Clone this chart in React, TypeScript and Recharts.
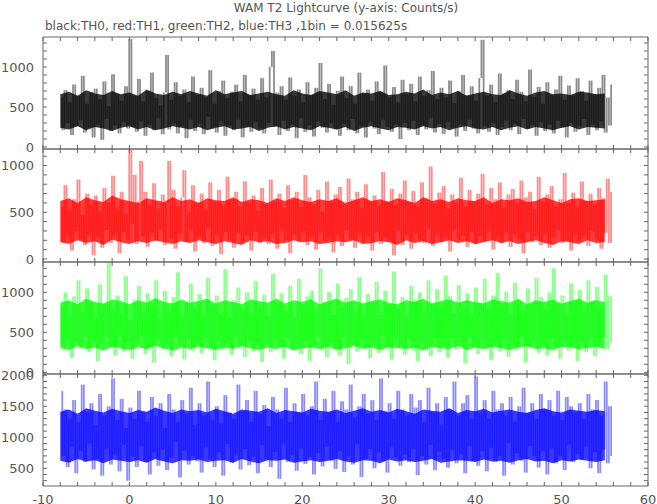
import { ComposedChart, Bar, Area, XAxis, YAxis } from "recharts";

// bin centers used for the plotted points (seconds, relative to trigger)
const times: number[] = Array.from({ length: 256 }, (_, i) => -8 + i * 0.25);

const xTicks = [-10, -8, -6, -4, -2, 0, 2, 4, 6, 8, 10, 12, 14, 16, 18, 20, 22, 24, 26, 28, 30, 32, 34, 36, 38, 40, 42, 44, 46, 48, 50, 52, 54, 56, 58, 60];
const xLabels = [-10, 0, 10, 20, 30, 40, 50, 60];

const th0Ticks = [0, 100, 200, 300, 400, 500, 600, 700, 800, 900, 1000, 1100, 1200, 1300];
const th1Ticks = [0, 100, 200, 300, 400, 500, 600, 700, 800, 900, 1000, 1100];
const th2Ticks = [0, 100, 200, 300, 400, 500, 600, 700, 800, 900, 1000, 1100, 1200, 1300];
const th3Ticks = [300, 400, 500, 600, 700, 800, 900, 1000, 1100, 1200, 1300, 1400, 1500, 1600, 1700, 1800, 1900, 2000];
const lowLabels = [0, 500, 1000];
const th3Labels = [500, 1000, 1500, 2000];

// count rate samples every 0.25 s (counts/s)
const th0 = [
  620, 210, 710, 300, 560, 150, 780, 260, 640, 330, 890, 180, 540, 240, 690, 120,
  730, 280, 600, 90, 820, 350, 510, 200, 910, 270, 660, 170, 580, 310, 760, 230,
  1350, 250, 640, 190, 850, 320, 570, 140, 700, 280, 930, 210, 610, 360, 520, 160,
  680, 1150, 220, 590, 300, 810, 170, 640, 260, 720, 110, 560, 340, 880, 200, 650,
  290, 740, 160, 620, 380, 960, 230, 540, 180, 700, 320, 830, 140, 610, 270, 690,
  210, 780, 340, 570, 120, 900, 260, 650, 190, 730, 310, 590, 230, 860, 170, 620,
  300, 1000, 1200, 250, 680, 150, 760, 330, 590, 200, 870, 280, 640, 110, 720, 360,
  560, 190, 810, 270, 650, 130, 740, 320, 1050, 240, 600, 180, 790, 300, 530, 220,
  700, 140, 880, 290, 610, 210, 760, 350, 540, 170, 930, 260, 670, 120, 720, 310,
  580, 230, 820, 160, 690, 340, 1020, 250, 620, 190, 750, 280, 560, 100, 840, 300,
  660, 210, 790, 330, 570, 150, 880, 270, 640, 220, 710, 360, 950, 180, 600, 290,
  740, 160, 620, 310, 830, 240, 550, 130, 700, 280, 900, 200, 650, 340, 760, 230,
  580, 170, 860, 1340, 260, 640, 190, 780, 300, 560, 150, 920, 250, 670, 330, 710,
  210, 600, 290, 840, 160, 690, 350, 570, 230, 970, 270, 630, 140, 750, 310, 540,
  200, 810, 280, 650, 170, 720, 330, 890, 240, 590, 120, 770, 300, 640, 190, 860,
  260, 700, 350, 580, 150, 830, 280, 660, 210, 740, 320, 900, 180, 620, 270, 780,
];

const th1 = [
  560, 180, 790, 240, 520, 90, 640, 300, 850, 210, 470, 150, 700, 260, 580, 40,
  680, 230, 510, 120, 760, 310, 600, 170, 890, 250, 540, 60, 720, 290, 480, 200,
  1170, 380, 900, 160, 620, 1050, 240, 720, 130, 580, 280, 810, 190, 530, 320, 690,
  150, 600, 1050, 220, 740, 110, 560, 270, 660, 950, 180, 500, 310, 790, 80, 610,
  240, 700, 170, 530, 330, 820, 140, 610, 260, 740, 50, 570, 290, 880, 200, 640,
  120, 720, 280, 560, 190, 830, 250, 600, 90, 680, 300, 520, 170, 760, 230, 590,
  160, 850, 270, 620, 110, 700, 320, 540, 200, 790, 60, 630, 250, 720, 180, 560,
  300, 900, 150, 660, 240, 580, 100, 740, 280, 510, 190, 830, 220, 620, 70, 690,
  260, 770, 140, 590, 310, 860, 210, 640, 120, 720, 270, 540, 180, 800, 240, 610,
  90, 680, 290, 570, 160, 930, 230, 620, 190, 750, 40, 580, 300, 700, 150, 840,
  250, 610, 110, 730, 280, 560, 200, 820, 170, 650, 320, 990, 140, 590, 260, 710,
  180, 780, 230, 540, 80, 690, 310, 600, 200, 870, 250, 560, 130, 740, 290, 620,
  160, 700, 240, 910, 190, 580, 300, 760, 100, 640, 220, 820, 170, 550, 280, 690,
  130, 750, 260, 590, 210, 840, 60, 660, 290, 720, 180, 530, 240, 880, 150, 610,
  270, 690, 120, 780, 230, 570, 310, 640, 170, 920, 200, 600, 90, 710, 260, 560,
  190, 830, 250, 620, 140, 700, 300, 580, 210, 760, 110, 650, 280, 860, 170, 720,
];

const th2 = [
  820, 330, 1000, 420, 700, 180, 950, 380, 1150, 290, 760, 470, 1050, 250, 880, 400,
  690, 140, 1100, 360, 850, 440, 1380, 310, 780, 210, 960, 480, 730, 260, 1200, 390,
  640, 170, 910, 350, 1080, 450, 720, 230, 990, 300, 830, 120, 1150, 410, 680, 280,
  1020, 370, 760, 200, 940, 460, 1250, 330, 700, 160, 870, 420, 1110, 270, 800, 350,
  980, 240, 720, 430, 1180, 310, 850, 150, 960, 390, 740, 280, 1290, 360, 690, 220,
  900, 450, 1060, 300, 780, 190, 1000, 410, 730, 260, 1140, 340, 820, 130, 970, 380,
  710, 250, 1230, 420, 860, 320, 990, 170, 760, 440, 1080, 290, 690, 360, 1170, 230,
  840, 400, 950, 140, 1020, 330, 770, 460, 1300, 270, 880, 190, 1010, 380, 720, 300,
  1110, 210, 810, 440, 930, 100, 1040, 350, 760, 260, 1190, 410, 690, 310, 980, 180,
  870, 370, 1130, 240, 720, 450, 1020, 290, 850, 160, 1260, 400, 790, 330, 940, 220,
  700, 410, 1080, 270, 900, 140, 1000, 380, 760, 300, 1150, 200, 860, 430, 1040, 250,
  820, 350, 1210, 180, 950, 420, 740, 280, 1090, 360, 800, 110, 990, 440, 710, 310,
  1060, 230, 870, 400, 1170, 290, 780, 150, 960, 370, 1240, 260, 830, 420, 1010, 190,
  720, 340, 1120, 280, 900, 450, 770, 120, 1050, 310, 860, 400, 1180, 240, 940, 360,
  790, 210, 1000, 430, 1300, 300, 850, 170, 960, 390, 730, 270, 1110, 350, 880, 140,
  1030, 380, 760, 250, 1150, 420, 900, 200, 1070, 330, 810, 440, 1220, 290, 950, 370,
];

const th3 = [
  1750, 700, 1450, 520, 1300, 850, 1600, 420, 1250, 780, 1850, 600, 1400, 900, 1550, 480,
  1200, 650, 1700, 380, 1350, 820, 1500, 560, 1950, 720, 1280, 450, 1620, 880, 1150, 300,
  1480, 690, 1300, 520, 1750, 860, 1400, 600, 1250, 400, 1650, 750, 1350, 540, 1550, 800,
  1150, 470, 1700, 680, 1450, 920, 1250, 350, 1600, 780, 1380, 560, 1800, 700, 1200, 610,
  1550, 430, 1350, 840, 1900, 650, 1280, 520, 1500, 760, 1220, 380, 1680, 890, 1400, 590,
  1300, 720, 1850, 480, 1420, 810, 1600, 550, 1250, 690, 1750, 420, 1380, 870, 1520, 640,
  1180, 520, 1650, 760, 1450, 330, 1300, 900, 1800, 600, 1250, 710, 1550, 460, 1400, 820,
  1700, 570, 1350, 680, 1500, 400, 1900, 740, 1280, 530, 1620, 850, 1400, 620, 1750, 490,
  1250, 780, 1580, 440, 1450, 700, 1850, 560, 1320, 890, 1500, 360, 1700, 650, 1380, 810,
  1600, 500, 1280, 760, 1950, 620, 1420, 430, 1550, 850, 1300, 680, 1750, 540, 1450, 720,
  1350, 600, 1700, 820, 1480, 390, 1600, 700, 1250, 560, 1800, 880, 1400, 470, 1550, 760,
  1200, 650, 1650, 510, 1450, 800, 1900, 580, 1350, 720, 1550, 420, 1680, 860, 1300, 620,
  1980, 540, 1400, 770, 1600, 450, 1300, 830, 1750, 600, 1450, 700, 1550, 380, 1350, 900,
  1650, 560, 1250, 740, 1500, 620, 1800, 430, 1400, 860, 1550, 690, 1300, 510, 1700, 780,
  1450, 400, 1600, 820, 1350, 580, 1750, 700, 1280, 470, 1650, 880, 1500, 600, 1400, 730,
  1550, 640, 1300, 850, 1700, 500, 1450, 760, 1600, 420, 1350, 800, 1900, 580, 1500, 700,
];

// dense core of each trace, one low/high pair per second
const th0Lo = [
  240, 220, 260, 210, 250, 230, 200, 240, 260, 220, 250, 210, 230, 260, 240, 220,
  250, 210, 240, 260, 220, 230, 250, 200, 240, 260, 220, 250, 230, 210, 260, 240,
  220, 250, 200, 240, 260, 230, 210, 250, 240, 220, 260, 230, 250, 210, 240, 260,
  230, 220, 250, 210, 240, 260, 220, 250, 230, 210, 240, 260, 220, 250, 240, 230,
];
const th0Hi = [
  660, 690, 640, 710, 670, 650, 700, 660, 680, 640, 720, 670, 650, 690, 660, 700,
  670, 640, 710, 660, 680, 700, 650, 670, 690, 660, 640, 710, 670, 650, 700, 680,
  660, 710, 640, 680, 670, 700, 650, 660, 690, 670, 720, 650, 680, 660, 700, 640,
  670, 690, 660, 650, 710, 670, 640, 680, 700, 660, 670, 650, 690, 680, 660, 670,
];
const th1Lo = [
  180, 160, 200, 170, 190, 150, 210, 180, 160, 190, 170, 200, 180, 160, 190, 170,
  200, 180, 160, 190, 170, 150, 200, 180, 190, 160, 170, 200, 180, 190, 160, 170,
  190, 180, 200, 160, 170, 190, 180, 150, 200, 170, 190, 160, 180, 200, 170, 190,
  160, 180, 200, 170, 190, 160, 180, 200, 170, 150, 190, 180, 160, 200, 170, 180,
];
const th1Hi = [
  620, 650, 600, 660, 630, 610, 680, 640, 620, 600, 650, 630, 610, 660, 620, 640,
  600, 650, 630, 620, 660, 610, 640, 630, 600, 650, 620, 660, 630, 610, 640, 620,
  650, 600, 630, 660, 620, 640, 610, 650, 630, 600, 660, 620, 640, 610, 650, 630,
  620, 660, 600, 640, 630, 650, 610, 620, 660, 630, 600, 640, 650, 620, 630, 640,
];
const th2Lo = [
  300, 280, 330, 290, 310, 270, 320, 300, 280, 310, 290, 330, 300, 270, 310, 290,
  320, 300, 280, 310, 290, 330, 300, 280, 310, 290, 320, 270, 300, 310, 290, 320,
  280, 300, 330, 290, 310, 280, 320, 300, 290, 310, 270, 320, 300, 290, 330, 280,
  310, 290, 320, 300, 280, 310, 330, 290, 300, 280, 320, 310, 290, 300, 320, 290,
];
const th2Hi = [
  870, 900, 850, 920, 880, 860, 910, 890, 850, 900, 870, 930, 880, 860, 910, 870,
  890, 920, 860, 900, 880, 850, 910, 890, 870, 920, 860, 900, 880, 910, 850, 890,
  920, 870, 900, 860, 890, 910, 870, 850, 900, 880, 920, 860, 890, 910, 870, 900,
  880, 860, 910, 890, 870, 920, 850, 900, 880, 910, 860, 890, 920, 870, 900, 880,
];
const th3Lo = [
  620, 590, 650, 610, 630, 580, 640, 620, 600, 630, 590, 650, 610, 580, 630, 620,
  640, 600, 620, 630, 590, 650, 610, 580, 630, 620, 640, 590, 610, 630, 600, 620,
  650, 610, 590, 630, 620, 580, 640, 610, 630, 600, 620, 650, 590, 610, 630, 620,
  600, 640, 610, 620, 590, 630, 650, 610, 620, 580, 630, 610, 640, 620, 600, 630,
];
const th3Hi = [
  1410, 1450, 1380, 1470, 1430, 1400, 1460, 1420, 1390, 1440, 1410, 1480, 1430, 1390, 1450, 1420,
  1440, 1400, 1460, 1420, 1380, 1450, 1430, 1410, 1470, 1390, 1440, 1420, 1400, 1460, 1430, 1410,
  1450, 1390, 1430, 1470, 1410, 1440, 1400, 1460, 1420, 1380, 1450, 1430, 1410, 1470, 1390, 1440,
  1420, 1460, 1400, 1430, 1450, 1410, 1390, 1440, 1470, 1420, 1400, 1450, 1430, 1410, 1440, 1420,
];

const W = 657;
const AXIS = "#666";
const TEXT = "#555";
const FONT = "'DejaVu Sans', sans-serif";
const PAD = 10;

const empty = () => <g />;

function yTick(labels: number[]) {
  return (p: any) =>
    labels.includes(p.payload.value) ? (
      <text x={p.x} y={p.y} textAnchor="end" dominantBaseline="central" fill={TEXT} fontSize={13} fontFamily={FONT}>
        {p.payload.value}
      </text>
    ) : (
      <g />
    );
}

const xTick = (p: any) =>
  xLabels.includes(p.payload.value) ? (
    <text x={p.x} y={p.y} textAnchor="middle" dominantBaseline="central" fill={TEXT} fontSize={13} fontFamily={FONT}>
      {p.payload.value}
    </text>
  ) : (
    <g />
  );

interface PanelProps {
  top: number;
  height: number;
  domain: [number, number];
  ticks: number[];
  labels: number[];
  color: string;
  values: number[];
  lo: number[];
  hi: number[];
  showX?: boolean;
}

function Panel({ top, height, domain, ticks, labels, color, values, lo, hi, showX = false }: PanelProps) {
  // each bin is drawn as the vertical jump from the previous bin to this one
  const data = times.map((t, i) => {
    const prev = values[Math.max(i - 1, 0)];
    const cur = values[i];
    return {
      t,
      span: [Math.min(prev, cur), Math.max(prev, cur)],
      core: i % 4 === 0 ? [lo[i / 4], hi[i / 4]] : null,
    };
  });
  const bottom = showX ? 24 : PAD;
  const h = height + PAD + bottom;
  return (
    <div style={{ position: "absolute", left: 0, top: top - PAD, width: W, height: h }}>
      <ComposedChart width={W} height={h} data={data} margin={{ top: PAD - 1, right: 0, bottom: bottom - 1, left: 0 }}>
        <XAxis
          xAxisId="top"
          orientation="top"
          type="number"
          dataKey="t"
          domain={[-10, 60]}
          ticks={xTicks}
          height={1}
          tickSize={-4}
          tick={empty}
          stroke={AXIS}
          interval={0}
        />
        <XAxis
          type="number"
          dataKey="t"
          domain={[-10, 60]}
          ticks={xTicks}
          height={1}
          tickSize={-4}
          tickMargin={17}
          tick={showX ? xTick : empty}
          stroke={AXIS}
          interval={0}
        />
        <YAxis
          width={43}
          type="number"
          domain={domain}
          ticks={ticks}
          allowDataOverflow
          tickSize={-4}
          tickMargin={13}
          tick={yTick(labels)}
          stroke={AXIS}
          interval={0}
        />
        <YAxis
          yAxisId="r"
          orientation="right"
          width={9}
          type="number"
          domain={domain}
          ticks={ticks}
          allowDataOverflow
          tickSize={-4}
          tick={empty}
          stroke={AXIS}
          interval={0}
        />
        <Area
          type="linear"
          dataKey="core"
          stroke="none"
          fill={color}
          fillOpacity={0.78}
          connectNulls
          dot={false}
          activeDot={false}
          isAnimationActive={false}
        />
        <Bar
          dataKey="span"
          fill={color}
          fillOpacity={0.45}
          barSize={1.8}
          isAnimationActive={false}
        />
      </ComposedChart>
    </div>
  );
}

export default function App() {
  return (
    <div style={{ position: "absolute", left: 0, top: 0, width: W, height: 504, background: "#fff", fontFamily: FONT }}>
      <div style={{ position: "absolute", left: 0, width: 692, top: 0, textAlign: "center", fontSize: 12, color: TEXT, lineHeight: "16px" }}>
        WAM T2 Lightcurve (y-axis: Counts/s)
      </div>
      <div style={{ position: "absolute", left: 45, top: 18, fontSize: 12, color: TEXT, lineHeight: "16px", whiteSpace: "nowrap" }}>
        black:TH0, red:TH1, green:TH2, blue:TH3 ,1bin = 0.015625s
      </div>
      <Panel top={37} height={112} domain={[-25, 1375]} ticks={th0Ticks} labels={lowLabels} color="#000000" values={th0} lo={th0Lo} hi={th0Hi} />
      <Panel top={149} height={113} domain={[-32, 1177]} ticks={th1Ticks} labels={lowLabels} color="#ff0000" values={th1} lo={th1Lo} hi={th1Hi} />
      <Panel top={262} height={112} domain={[-21, 1379]} ticks={th2Ticks} labels={lowLabels} color="#00ff00" values={th2} lo={th2Lo} hi={th2Hi} />
      <Panel top={374} height={112} domain={[214, 2021]} ticks={th3Ticks} labels={th3Labels} color="#0000ff" values={th3} lo={th3Lo} hi={th3Hi} showX />
    </div>
  );
}
